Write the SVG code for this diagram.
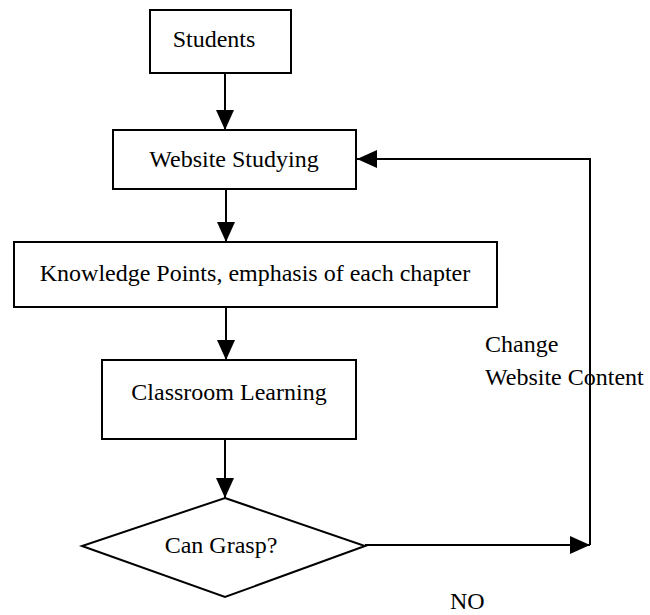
<svg xmlns="http://www.w3.org/2000/svg" width="650" height="615" viewBox="0 0 650 615">
  <style>
    .box { fill: #ffffff; stroke: #000000; stroke-width: 2; }
    .edge { fill: none; stroke: #000000; stroke-width: 2; }
  </style>
  <defs>
    <marker id="arrow" markerUnits="userSpaceOnUse" markerWidth="20" markerHeight="18" refX="20" refY="9" orient="auto">
      <path d="M0,0 L20,9 L0,18 Z" fill="#000000"/>
    </marker>
  </defs>
  <rect width="650" height="615" fill="#ffffff"/>

  <g id="connectors">
    <line class="edge" x1="225" y1="73" x2="225" y2="130" marker-end="url(#arrow)"/>
    <line class="edge" x1="226" y1="189" x2="226" y2="242" marker-end="url(#arrow)"/>
    <line class="edge" x1="226" y1="307" x2="226" y2="360" marker-end="url(#arrow)"/>
    <line class="edge" x1="225" y1="439" x2="225" y2="498" marker-end="url(#arrow)"/>
    <line class="edge" x1="365" y1="545" x2="590" y2="545" marker-end="url(#arrow)"/>
    <polyline class="edge" points="590,545 590,159 357,159" marker-end="url(#arrow)"/>
  </g>

  <g font-family="Liberation Serif, DejaVu Serif, serif" font-size="24" fill="#000000">
    <g id="students">
      <rect class="box" x="150" y="10" width="141" height="63"/>
      <text x="214" y="47" text-anchor="middle">Students</text>
    </g>

    <g id="website-studying">
      <rect class="box" x="113" y="130" width="243" height="59"/>
      <text x="234" y="167" text-anchor="middle">Website Studying</text>
    </g>

    <g id="knowledge-points">
      <rect class="box" x="14" y="242" width="483" height="65"/>
      <text x="255" y="281" text-anchor="middle">Knowledge Points, emphasis of each chapter</text>
    </g>

    <g id="classroom-learning">
      <rect class="box" x="102" y="360" width="254" height="79"/>
      <text x="229" y="400" text-anchor="middle">Classroom Learning</text>
    </g>

    <g id="can-grasp">
      <polygon class="box" points="225,498 365,546 225,597 82,546"/>
      <text x="221" y="553" text-anchor="middle">Can Grasp?</text>
    </g>

    <g id="labels">
      <text x="485" y="352">Change</text>
      <text x="485" y="385">Website Content</text>
      <text x="450" y="609">NO</text>
    </g>
  </g>
</svg>
